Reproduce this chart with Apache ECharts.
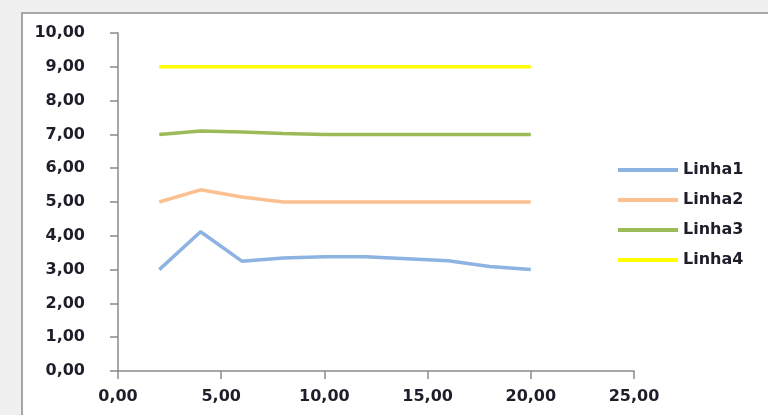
<!DOCTYPE html>
<html>
<head>
<meta charset="utf-8">
<script src="https://cdn.jsdelivr.net/npm/echarts@6/dist/echarts.min.js"></script>
<style>
  html, body { margin: 0; padding: 0; background: #ffffff; overflow: hidden; }
  #chart { width: 768px; height: 415px; }
</style>
</head>
<body>
<div id="chart"></div>
<script>
// X positions shared by every series
const xValues = [2, 4, 6, 8, 10, 12, 14, 16, 18, 20];

// Series values
const linha1 = [3.00, 4.12, 3.25, 3.34, 3.38, 3.38, 3.32, 3.26, 3.09, 3.00];
const linha2 = [5.00, 5.36, 5.15, 5.00, 5.00, 5.00, 5.00, 5.00, 5.00, 5.00];
const linha3 = [7.00, 7.10, 7.07, 7.03, 7.00, 7.00, 7.00, 7.00, 7.00, 7.00];
const linha4 = [9.00, 9.00, 9.00, 9.00, 9.00, 9.00, 9.00, 9.00, 9.00, 9.00];

const seriesNames = ['Linha1', 'Linha2', 'Linha3', 'Linha4'];
const seriesValues = [linha1, linha2, linha3, linha4];
const seriesColors = ['#8db3e2', '#fac08f', '#9bbb59', '#ffff00'];

const fontFamily = '"DejaVu Sans", Verdana, sans-serif';
const textColor = '#1e1e2a';
const axisColor = '#8a8a8a';

// Decimal comma, two places
const fmt = v => v.toFixed(2).replace('.', ',');

const chart = echarts.init(document.getElementById('chart'), null, { renderer: 'canvas' });

const axisCommon = {
  type: 'value',
  axisLine: { show: true, lineStyle: { color: axisColor, width: 1.5 } },
  axisTick: { show: true, inside: false, length: 8, lineStyle: { color: axisColor, width: 1.5 } },
  splitLine: { show: false },
  axisLabel: {
    color: textColor,
    fontFamily: fontFamily,
    fontSize: 16,
    fontWeight: 'bold',
    formatter: fmt
  }
};

const frameStroke = { stroke: '#a6a6a6', lineWidth: 2 };

chart.setOption({
  animation: false,
  backgroundColor: '#ffffff',
  graphic: [
    // grey margin above and to the left of the panel
    { type: 'rect', silent: true, z: -10, shape: { x: 0, y: 0, width: 768, height: 12 }, style: { fill: '#f0f0f0' } },
    { type: 'rect', silent: true, z: -10, shape: { x: 0, y: 0, width: 21, height: 415 }, style: { fill: '#f0f0f0' } },
    // panel frame edges
    { type: 'line', silent: true, z: -9, shape: { x1: 21, y1: 13, x2: 768, y2: 13 }, style: frameStroke },
    { type: 'line', silent: true, z: -9, shape: { x1: 22, y1: 12, x2: 22, y2: 415 }, style: frameStroke }
  ],
  grid: { left: 118, right: 134, top: 33, bottom: 44, containLabel: false },
  xAxis: Object.assign({}, axisCommon, {
    min: 0, max: 25, interval: 5,
    axisLabel: Object.assign({}, axisCommon.axisLabel, { margin: 18 })
  }),
  yAxis: Object.assign({}, axisCommon, {
    min: 0, max: 10, interval: 1,
    axisLabel: Object.assign({}, axisCommon.axisLabel, { margin: 33 })
  }),
  legend: {
    orient: 'vertical',
    left: 613,
    top: 155,
    icon: 'rect',
    itemWidth: 60,
    itemHeight: 4,
    itemGap: 10,
    data: seriesNames,
    textStyle: {
      color: textColor,
      fontFamily: fontFamily,
      fontSize: 16,
      fontWeight: 'bold',
      lineHeight: 20
    }
  },
  series: seriesNames.map((name, i) => ({
    name: name,
    type: 'line',
    showSymbol: false,
    symbol: 'none',
    color: seriesColors[i],
    lineStyle: { color: seriesColors[i], width: 3.5 },
    data: xValues.map((x, j) => [x, seriesValues[i][j]])
  }))
});
</script>
</body>
</html>
